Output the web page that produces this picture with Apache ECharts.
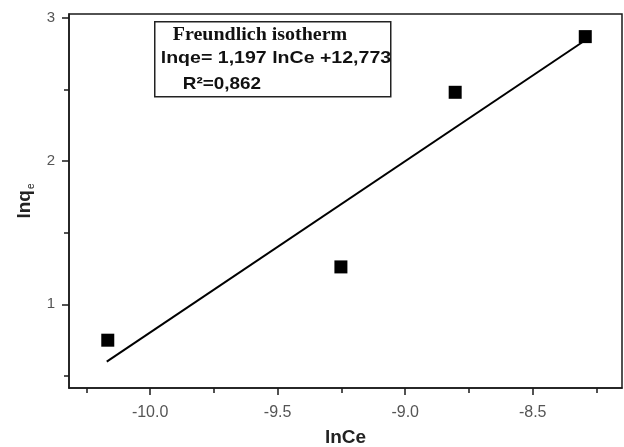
<!DOCTYPE html>
<html>
<head>
<meta charset="utf-8">
<script src="https://cdn.jsdelivr.net/npm/echarts@6/dist/echarts.min.js"></script>
<style>
  html, body { margin: 0; padding: 0; background: #fff; }
  #chart { width: 624px; height: 447px; }
</style>
</head>
<body>
<div id="chart"></div>
<script>
// Freundlich isotherm: ln qe against ln Ce
const lnCe = [-10.166, -9.252, -8.804, -8.294];
const lnqe = [0.749, 1.261, 2.481, 2.870];

// Linear fit as reported: lnqe = 1.197 lnCe + 12.773
const fitSlope = 1.197;
const fitIntercept = 12.773;
const fitRange = [-10.17, -8.30];

const xMajorTicks = [-10.0, -9.5, -9.0, -8.5];
const xMinorTicks = [-10.25, -9.75, -9.25, -8.75, -8.25];
const yMajorTicks = [1, 2, 3];
const yMinorTicks = [0.5, 1.5, 2.5];

const xRange = [-10.318, -8.15];
const yRange = [0.415, 3.028];

const points = lnCe.map((x, i) => [x, lnqe[i]]);
const fitLine = fitRange.map(x => [x, fitSlope * x + fitIntercept]);

const chart = echarts.init(document.getElementById('chart'), null, { renderer: 'canvas' });

const axisColor = '#1a1a1a';
const labelColor = '#555';
const sans = '"Liberation Sans", Arial, sans-serif';

chart.setOption({
  animation: false,
  backgroundColor: '#fff',
  grid: {
    left: 69, top: 14, right: 2, bottom: 59,
    outerBoundsMode: 'none', containLabel: false,
    show: true, borderColor: axisColor, borderWidth: 1.5, backgroundColor: 'transparent'
  },
  xAxis: [
    {
      type: 'value', min: xRange[0], max: xRange[1],
      splitLine: { show: false },
      axisLine: { show: true, onZero: false, lineStyle: { color: axisColor, width: 1.5 } },
      axisTick: { show: true, inside: false, length: 7, customValues: xMajorTicks, lineStyle: { color: axisColor, width: 1.5 } },
      axisLabel: {
        customValues: xMajorTicks, margin: 17, color: labelColor,
        fontFamily: sans, fontSize: 16,
        formatter: v => v.toFixed(1)
      },
      name: 'lnCe', nameLocation: 'middle', nameGap: 40,
      nameTextStyle: { fontFamily: sans, fontSize: 19, fontWeight: 'bold', color: '#222' }
    },
    {
      type: 'value', min: xRange[0], max: xRange[1], position: 'bottom',
      splitLine: { show: false },
      axisLine: { show: false, onZero: false },
      axisTick: { show: true, length: 5, customValues: xMinorTicks, lineStyle: { color: axisColor, width: 1.5 } },
      axisLabel: { show: false }
    }
  ],
  yAxis: [
    {
      type: 'value', min: yRange[0], max: yRange[1],
      splitLine: { show: false },
      axisLine: { show: true, onZero: false, lineStyle: { color: axisColor, width: 1.5 } },
      axisTick: { show: true, length: 7, customValues: yMajorTicks, lineStyle: { color: axisColor, width: 1.5 } },
      axisLabel: {
        customValues: yMajorTicks, margin: 14, color: labelColor,
        fontFamily: sans, fontSize: 15
      },
      name: '{b|lnq}{s|e}', nameLocation: 'middle', nameGap: 31, nameRotate: 90,
      nameTextStyle: {
        rich: {
          b: { fontFamily: sans, fontSize: 19, fontWeight: 'bold', color: '#222', lineHeight: 22 },
          s: { fontFamily: sans, fontSize: 10, color: '#222', lineHeight: 22, verticalAlign: 'bottom', padding: [8, 0, 0, 1] }
        }
      }
    },
    {
      type: 'value', min: yRange[0], max: yRange[1], position: 'left',
      splitLine: { show: false },
      axisLine: { show: false, onZero: false },
      axisTick: { show: true, length: 5, customValues: yMinorTicks, lineStyle: { color: axisColor, width: 1.5 } },
      axisLabel: { show: false }
    }
  ],
  series: [
    {
      name: 'fit', type: 'line', xAxisIndex: 0, yAxisIndex: 0,
      data: fitLine, showSymbol: false, symbol: 'none',
      lineStyle: { color: '#000', width: 2 }, z: 2
    },
    {
      name: 'data', type: 'scatter', xAxisIndex: 0, yAxisIndex: 0,
      data: points, symbol: 'rect', symbolSize: 13,
      itemStyle: { color: '#000', opacity: 1 }, z: 3
    }
  ],
  graphic: [
    {
      type: 'group', left: 154, top: 21,
      children: [
        { type: 'rect', shape: { x: 0, y: 0, width: 236, height: 75 },
          style: { fill: '#fff', stroke: '#222', lineWidth: 1.5 } },
        { type: 'text', x: 18, y: 5, scaleX: 1.11,
          style: { text: 'Freundlich isotherm', font: 'bold 18px "Liberation Serif", "Times New Roman", serif', fill: '#111' } },
        { type: 'text', x: 6, y: 28, scaleX: 1.15,
          style: { text: 'lnqe= 1,197 lnCe +12,773', font: 'bold 17px "Liberation Sans", Arial, sans-serif', fill: '#111' } },
        { type: 'text', x: 28, y: 54, scaleX: 1.11,
          style: { text: 'R²=0,862', font: 'bold 17px "Liberation Sans", Arial, sans-serif', fill: '#111' } }
      ]
    }
  ]
});
</script>
</body>
</html>
